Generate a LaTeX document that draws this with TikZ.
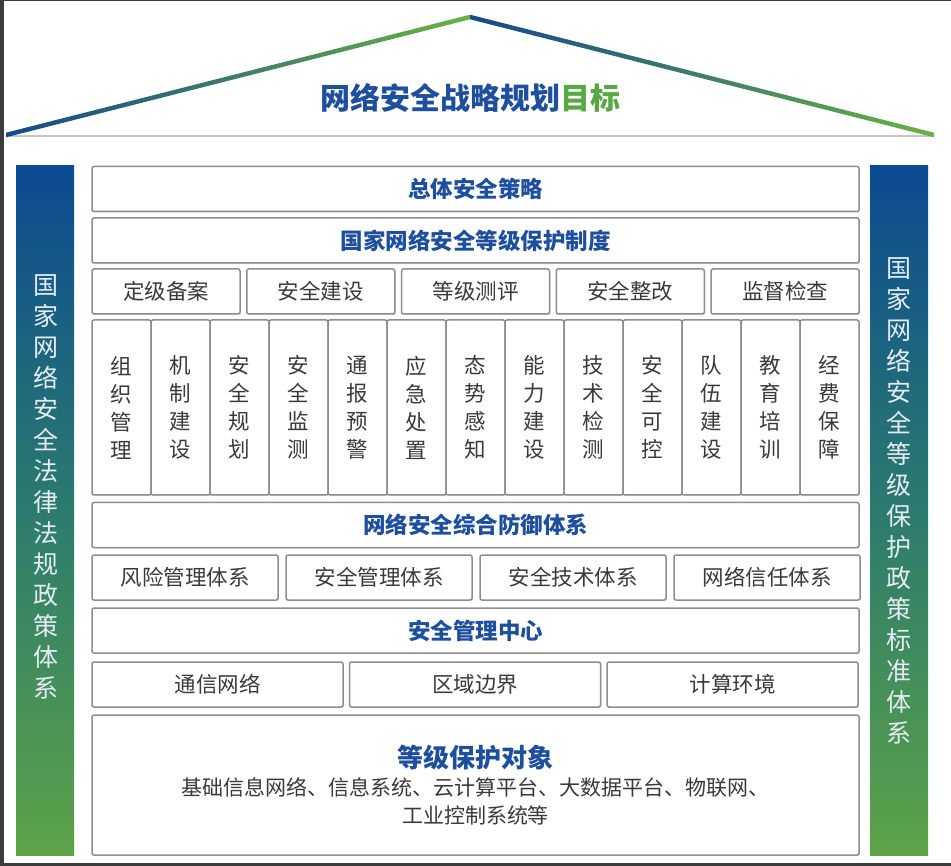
\documentclass[tikz,border=0pt]{standalone}
\usepackage{fontspec}
\setmainfont{Noto Sans CJK SC}
\usetikzlibrary{calc,shadows}
\definecolor{RoofBlue}{HTML}{16498C}
\definecolor{RoofGreen}{HTML}{6AB244}
\definecolor{TitleBlue}{HTML}{1D4F9E}
\definecolor{TitleGreen}{HTML}{58A845}
\definecolor{PillarTop}{HTML}{0B4A91}
\definecolor{PillarMid}{HTML}{2C7B6E}
\definecolor{PillarBottom}{HTML}{5DA347}
\definecolor{FrameGray}{HTML}{8E8E8E}
\definecolor{LabelGray}{HTML}{3A3A3A}
\definecolor{PillarText}{HTML}{E4ECF2}
\definecolor{EdgeGray}{HTML}{3C3C3C}

\begin{document}
\begin{tikzpicture}[x=1pt, y=-1pt,
  box/.style={draw=FrameGray, line width=1.5pt, rounded corners=2pt, fill=white, inner sep=0pt, minimum height=45pt, align=center, drop shadow={shadow xshift=1pt, shadow yshift=-1.2pt, opacity=0.25}},
  head/.style={box, minimum width=767pt, font=\fontsize{22.5}{26}\selectfont\bfseries, text=TitleBlue},
  item/.style={box, font=\fontsize{21.5}{26}\selectfont, text=LabelGray},
  column/.style={box, minimum width=59pt, minimum height=175pt, font=\fontsize{21.5}{28}\selectfont, text=LabelGray},
  pillar/.style={rectangle, minimum width=58pt, minimum height=689pt, inner sep=0pt, top color=PillarTop, bottom color=PillarBottom, middle color=PillarMid},
  pillartext/.style={align=center, inner sep=0pt, text=PillarText, font=\fontsize{25}{31}\selectfont}
]
\useasboundingbox (0,0) rectangle (951,866);
% screen edge
\fill[EdgeGray] (0,0) rectangle (3.5,866);
\fill[EdgeGray] (0,0) rectangle (951,1.5);
\fill[EdgeGray] (0,862.5) rectangle (951,866);

% roof
\coordinate (eaveL) at (6,135);
\coordinate (apex) at (470,17);
\coordinate (eaveR) at (934,135);
\draw[line width=2pt, black!22] ($(eaveL)+(0,1.5)$) -- ($(eaveR)+(0,1.5)$);
\shade[left color=RoofBlue, right color=RoofGreen] ($(eaveL)+(0,-2.3)$) -- ($(apex)+(0,-2.3)$) -- ($(apex)+(0,2.3)$) -- ($(eaveL)+(0,2.3)$) -- cycle;
\shade[left color=RoofBlue, right color=RoofGreen] ($(apex)+(0,-2.3)$) -- ($(eaveR)+(0,-2.3)$) -- ($(eaveR)+(0,2.3)$) -- ($(apex)+(0,2.3)$) -- cycle;
\node[font=\fontsize{30}{34}\selectfont\bfseries] (goal) at (470,98) {\textcolor{TitleBlue}{网络安全战略规划}\textcolor{TitleGreen}{目标}};

% pillars
\node[pillar] (law) at (45,510.5) {};
\node[pillar] (std) at (899,510.5) {};
\node[pillartext] (lawtext) at (46,487) {国\\家\\网\\络\\安\\全\\法\\律\\法\\规\\政\\策\\体\\系};
\node[pillartext] (stdtext) at (899,501) {国\\家\\网\\络\\安\\全\\等\\级\\保\\护\\政\\策\\标\\准\\体\\系};

% rows
\node[head] (policy) at (475.5,189) {总体安全策略};
\node[head] (scheme) at (475.5,240.5) {国家网络安全等级保护制度};
\foreach \lbl [count=\i] in {定级备案,安全建设,等级测评,安全整改,监督检查}
  \node[item, minimum width=148pt] (stage\i) at ({166+(\i-1)*154.75},291.5) {\lbl};
\foreach \lbl [count=\i] in {{组\\织\\管\\理},{机\\制\\建\\设},{安\\全\\规\\划},{安\\全\\监\\测},{通\\报\\预\\警},{应\\急\\处\\置},{态\\势\\感\\知},{能\\力\\建\\设},{技\\术\\检\\测},{安\\全\\可\\控},{队\\伍\\建\\设},{教\\育\\培\\训},{经\\费\\保\\障}}
  \node[column] (task\i) at ({121.5+(\i-1)*59},407.5) {\lbl};
\node[head] (defense) at (475.5,525) {网络安全综合防御体系};
\foreach \lbl [count=\i] in {风险管理体系,安全管理体系,安全技术体系,网络信任体系}
  \node[item, minimum width=186pt] (sys\i) at ({185+(\i-1)*194},577.5) {\lbl};
\node[head] (center) at (475.5,630.5) {安全管理中心};
\foreach \lbl [count=\i] in {通信网络,区域边界,计算环境}
  \node[item, minimum width=251pt] (zone\i) at ({217.5+(\i-1)*257.5},684.5) {\lbl};
\node[box, minimum width=767pt, minimum height=140pt, font=\fontsize{21}{28}\selectfont, text=LabelGray] (target) at (475.5,785) {{\fontsize{26}{28}\selectfont\bfseries\color{TitleBlue}等级保护对象}\\基础信息网络、信息系统、云计算平台、大数据平台、物联网、\\工业控制系统等};
\end{tikzpicture}
\end{document}
